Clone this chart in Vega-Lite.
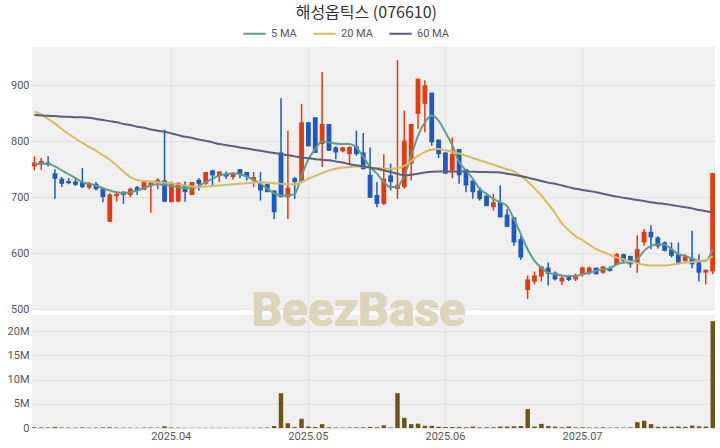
{
  "$schema": "https://vega.github.io/schema/vega-lite/v6.json",
  "background": "white",
  "padding": {"left": 2, "right": 5, "top": 5, "bottom": 4},
  "title": {"text": "해성옵틱스 (076610)", "anchor": "middle", "font": "Noto Sans CJK KR", "fontSize": 16, "fontWeight": "normal", "color": "#333333", "offset": 0, "dx": 7},
  "config": {
    "view": {"fill": "#f0f0f0", "stroke": null},
    "font": "Roboto",
    "axis": {"labelFont": "Roboto", "labelFontSize": 11, "labelColor": "#555555", "gridColor": "#e3e3e3", "gridWidth": 1, "domain": false, "ticks": false, "title": null, "labelPadding": 3, "labelOverlap": false},
    "legend": {"labelFont": "Roboto", "labelFontSize": 11, "labelColor": "#555555"}
  },
  "spacing": 6,
  "bounds": "flush",
  "datasets": {
    "k": [
      {"d":"2025-03-07","o":755,"h":773,"l":748,"c":762,"v":150000,"m5":760,"m20":853,"m60":847},
      {"d":"2025-03-10","o":758,"h":770,"l":749,"c":765,"v":120000,"m5":760,"m20":848,"m60":846},
      {"d":"2025-03-11","o":762,"h":773,"l":755,"c":758,"v":100000,"m5":760,"m20":840,"m60":845.5},
      {"d":"2025-03-12","o":743,"h":750,"l":697,"c":733,"v":200000,"m5":755,"m20":832,"m60":845},
      {"d":"2025-03-13","o":733,"h":736,"l":718,"c":724,"v":100000,"m5":748,"m20":822,"m60":844},
      {"d":"2025-03-14","o":729,"h":734,"l":723,"c":725,"v":80000,"m5":741,"m20":813,"m60":844},
      {"d":"2025-03-17","o":728,"h":733,"l":720,"c":722,"v":80000,"m5":734,"m20":805,"m60":843},
      {"d":"2025-03-18","o":727,"h":752,"l":716,"c":718,"v":120000,"m5":727,"m20":797,"m60":843},
      {"d":"2025-03-19","o":717,"h":727,"l":714,"c":724,"v":80000,"m5":724,"m20":790,"m60":842},
      {"d":"2025-03-20","o":724,"h":727,"l":712,"c":714,"v":100000,"m5":721,"m20":783,"m60":840},
      {"d":"2025-03-21","o":715,"h":717,"l":691,"c":700,"v":120000,"m5":716,"m20":775,"m60":838},
      {"d":"2025-03-24","o":656,"h":707,"l":655,"c":705,"v":150000,"m5":712,"m20":767,"m60":836},
      {"d":"2025-03-25","o":702,"h":710,"l":692,"c":706,"v":80000,"m5":709,"m20":757,"m60":834},
      {"d":"2025-03-26","o":710,"h":710,"l":688,"c":704,"v":80000,"m5":707,"m20":746,"m60":831},
      {"d":"2025-03-27","o":704,"h":717,"l":700,"c":715,"v":70000,"m5":709,"m20":736,"m60":829},
      {"d":"2025-03-28","o":718,"h":720,"l":704,"c":712,"v":60000,"m5":712,"m20":731,"m60":826},
      {"d":"2025-03-31","o":713,"h":728,"l":713,"c":728,"v":80000,"m5":716,"m20":729,"m60":824},
      {"d":"2025-04-01","o":722,"h":728,"l":672,"c":726,"v":100000,"m5":721,"m20":728,"m60":821},
      {"d":"2025-04-02","o":727,"h":734,"l":714,"c":731,"v":80000,"m5":723,"m20":727,"m60":819},
      {"d":"2025-04-03","o":730,"h":821,"l":691,"c":692,"v":350000,"m5":722,"m20":726,"m60":817},
      {"d":"2025-04-04","o":691,"h":728,"l":691,"c":724,"v":100000,"m5":720,"m20":725,"m60":814},
      {"d":"2025-04-07","o":692,"h":726,"l":691,"c":726,"v":80000,"m5":718,"m20":723,"m60":811},
      {"d":"2025-04-08","o":721,"h":728,"l":692,"c":709,"v":60000,"m5":716,"m20":721,"m60":808},
      {"d":"2025-04-09","o":704,"h":727,"l":704,"c":727,"v":50000,"m5":716,"m20":719,"m60":806},
      {"d":"2025-04-10","o":731,"h":734,"l":712,"c":724,"v":50000,"m5":720,"m20":718,"m60":803},
      {"d":"2025-04-11","o":724,"h":745,"l":722,"c":745,"v":60000,"m5":727,"m20":719,"m60":801},
      {"d":"2025-04-14","o":748,"h":749,"l":721,"c":739,"v":50000,"m5":733,"m20":720,"m60":798},
      {"d":"2025-04-15","o":739,"h":746,"l":727,"c":746,"v":50000,"m5":739,"m20":721,"m60":795},
      {"d":"2025-04-16","o":742,"h":746,"l":733,"c":737,"v":40000,"m5":741,"m20":722,"m60":793},
      {"d":"2025-04-17","o":736,"h":744,"l":731,"c":743,"v":40000,"m5":743,"m20":723,"m60":791},
      {"d":"2025-04-18","o":750,"h":750,"l":734,"c":740,"v":40000,"m5":741,"m20":724,"m60":789},
      {"d":"2025-04-21","o":745,"h":745,"l":730,"c":736,"v":50000,"m5":737,"m20":725,"m60":787},
      {"d":"2025-04-22","o":730,"h":745,"l":718,"c":736,"v":50000,"m5":731,"m20":726,"m60":785},
      {"d":"2025-04-23","o":724,"h":745,"l":694,"c":712,"v":80000,"m5":724,"m20":727,"m60":783},
      {"d":"2025-04-24","o":724,"h":724,"l":709,"c":709,"v":100000,"m5":715,"m20":726,"m60":781},
      {"d":"2025-04-25","o":712,"h":712,"l":661,"c":673,"v":400000,"m5":707,"m20":725,"m60":779},
      {"d":"2025-04-28","o":780,"h":877,"l":700,"c":700,"v":7200000,"m5":703,"m20":724,"m60":777},
      {"d":"2025-04-29","o":700,"h":819,"l":661,"c":717,"v":1000000,"m5":703,"m20":723,"m60":775},
      {"d":"2025-04-30","o":734,"h":736,"l":697,"c":727,"v":200000,"m5":706,"m20":723,"m60":773},
      {"d":"2025-05-02","o":730,"h":867,"l":727,"c":834,"v":1900000,"m5":738,"m20":727,"m60":771},
      {"d":"2025-05-07","o":834,"h":834,"l":791,"c":791,"v":300000,"m5":768,"m20":733,"m60":769.5},
      {"d":"2025-05-08","o":843,"h":843,"l":779,"c":779,"v":200000,"m5":786,"m20":738,"m60":768},
      {"d":"2025-05-09","o":795,"h":924,"l":754,"c":831,"v":800000,"m5":800,"m20":743,"m60":767},
      {"d":"2025-05-12","o":831,"h":831,"l":783,"c":783,"v":150000,"m5":798,"m20":748,"m60":766},
      {"d":"2025-05-13","o":789,"h":791,"l":768,"c":780,"v":100000,"m5":796,"m20":751,"m60":764},
      {"d":"2025-05-14","o":782,"h":790,"l":780,"c":789,"v":80000,"m5":795,"m20":753,"m60":762},
      {"d":"2025-05-15","o":777,"h":791,"l":759,"c":790,"v":100000,"m5":795,"m20":754,"m60":759},
      {"d":"2025-05-16","o":791,"h":819,"l":774,"c":777,"v":120000,"m5":789,"m20":755,"m60":757},
      {"d":"2025-05-19","o":780,"h":815,"l":750,"c":750,"v":150000,"m5":772,"m20":755,"m60":755},
      {"d":"2025-05-20","o":740,"h":789,"l":699,"c":699,"v":200000,"m5":754,"m20":753,"m60":753},
      {"d":"2025-05-21","o":704,"h":727,"l":682,"c":688,"v":150000,"m5":742,"m20":752,"m60":751},
      {"d":"2025-05-22","o":688,"h":777,"l":686,"c":733,"v":550000,"m5":727,"m20":751,"m60":748},
      {"d":"2025-05-23","o":739,"h":760,"l":712,"c":727,"v":100000,"m5":718,"m20":751,"m60":745},
      {"d":"2025-05-26","o":715,"h":945,"l":697,"c":722,"v":7200000,"m5":719,"m20":752,"m60":742},
      {"d":"2025-05-27","o":718,"h":855,"l":715,"c":801,"v":2100000,"m5":739,"m20":756,"m60":739},
      {"d":"2025-05-28","o":760,"h":831,"l":730,"c":831,"v":800000,"m5":774,"m20":765,"m60":740},
      {"d":"2025-05-29","o":849,"h":912,"l":822,"c":912,"v":900000,"m5":810,"m20":774,"m60":742},
      {"d":"2025-05-30","o":867,"h":909,"l":816,"c":900,"v":450000,"m5":834,"m20":781,"m60":744},
      {"d":"2025-06-02","o":887,"h":887,"l":792,"c":798,"v":450000,"m5":846,"m20":785,"m60":745.5},
      {"d":"2025-06-04","o":803,"h":803,"l":770,"c":777,"v":250000,"m5":837,"m20":786,"m60":746},
      {"d":"2025-06-05","o":780,"h":780,"l":742,"c":742,"v":200000,"m5":816,"m20":784,"m60":746},
      {"d":"2025-06-09","o":748,"h":807,"l":734,"c":777,"v":200000,"m5":793,"m20":781,"m60":746},
      {"d":"2025-06-10","o":786,"h":786,"l":724,"c":739,"v":200000,"m5":763,"m20":778,"m60":746},
      {"d":"2025-06-11","o":750,"h":750,"l":709,"c":721,"v":150000,"m5":748,"m20":774,"m60":746},
      {"d":"2025-06-12","o":730,"h":730,"l":697,"c":709,"v":300000,"m5":733,"m20":770,"m60":745.5},
      {"d":"2025-06-13","o":712,"h":718,"l":694,"c":697,"v":150000,"m5":715,"m20":766,"m60":745},
      {"d":"2025-06-16","o":703,"h":703,"l":684,"c":684,"v":150000,"m5":706,"m20":762,"m60":745},
      {"d":"2025-06-17","o":682,"h":706,"l":676,"c":691,"v":150000,"m5":697,"m20":758,"m60":744.5},
      {"d":"2025-06-18","o":691,"h":721,"l":664,"c":664,"v":300000,"m5":691,"m20":754,"m60":744},
      {"d":"2025-06-19","o":669,"h":679,"l":647,"c":647,"v":300000,"m5":684,"m20":750,"m60":742},
      {"d":"2025-06-20","o":664,"h":664,"l":613,"c":619,"v":350000,"m5":661,"m20":746,"m60":740},
      {"d":"2025-06-23","o":625,"h":631,"l":588,"c":592,"v":400000,"m5":634,"m20":738,"m60":738},
      {"d":"2025-06-24","o":534,"h":560,"l":518,"c":553,"v":3900000,"m5":607,"m20":728,"m60":735},
      {"d":"2025-06-25","o":549,"h":567,"l":544,"c":560,"v":300000,"m5":586,"m20":716,"m60":732},
      {"d":"2025-06-26","o":558,"h":577,"l":549,"c":576,"v":850000,"m5":574,"m20":703,"m60":729},
      {"d":"2025-06-27","o":574,"h":583,"l":542,"c":563,"v":400000,"m5":565,"m20":688,"m60":726},
      {"d":"2025-06-30","o":565,"h":567,"l":551,"c":553,"v":300000,"m5":562,"m20":672,"m60":724},
      {"d":"2025-07-01","o":549,"h":560,"l":543,"c":556,"v":150000,"m5":560,"m20":653,"m60":721},
      {"d":"2025-07-02","o":558,"h":561,"l":550,"c":552,"v":300000,"m5":559,"m20":641,"m60":718},
      {"d":"2025-07-03","o":553,"h":563,"l":550,"c":561,"v":120000,"m5":559,"m20":630,"m60":715},
      {"d":"2025-07-04","o":561,"h":576,"l":558,"c":574,"v":150000,"m5":562,"m20":623,"m60":713},
      {"d":"2025-07-07","o":564,"h":576,"l":561,"c":574,"v":100000,"m5":565,"m20":615,"m60":711},
      {"d":"2025-07-08","o":574,"h":574,"l":562,"c":562,"v":100000,"m5":568,"m20":607,"m60":709},
      {"d":"2025-07-09","o":565,"h":577,"l":563,"c":576,"v":150000,"m5":571,"m20":602,"m60":706},
      {"d":"2025-07-10","o":573,"h":576,"l":567,"c":568,"v":80000,"m5":573,"m20":597,"m60":703.5},
      {"d":"2025-07-11","o":579,"h":600,"l":578,"c":598,"v":100000,"m5":580,"m20":592,"m60":701},
      {"d":"2025-07-14","o":598,"h":599,"l":582,"c":586,"v":80000,"m5":583,"m20":589,"m60":699},
      {"d":"2025-07-15","o":595,"h":595,"l":574,"c":580,"v":100000,"m5":583,"m20":585,"m60":697},
      {"d":"2025-07-16","o":582,"h":632,"l":565,"c":607,"v":1200000,"m5":589,"m20":582,"m60":695},
      {"d":"2025-07-17","o":619,"h":643,"l":613,"c":638,"v":1500000,"m5":604,"m20":579,"m60":693},
      {"d":"2025-07-18","o":638,"h":650,"l":607,"c":628,"v":800000,"m5":613,"m20":578,"m60":691},
      {"d":"2025-07-21","o":628,"h":630,"l":608,"c":612,"v":250000,"m5":616,"m20":578,"m60":689},
      {"d":"2025-07-22","o":619,"h":621,"l":603,"c":604,"v":250000,"m5":615,"m20":578,"m60":688},
      {"d":"2025-07-23","o":607,"h":619,"l":592,"c":595,"v":250000,"m5":607,"m20":579,"m60":686},
      {"d":"2025-07-24","o":598,"h":619,"l":580,"c":583,"v":300000,"m5":598,"m20":581,"m60":684},
      {"d":"2025-07-25","o":586,"h":598,"l":582,"c":594,"v":250000,"m5":595,"m20":583,"m60":682},
      {"d":"2025-07-28","o":590,"h":640,"l":573,"c":580,"v":500000,"m5":590,"m20":584,"m60":680},
      {"d":"2025-07-29","o":583,"h":598,"l":549,"c":565,"v":350000,"m5":586,"m20":586,"m60":677},
      {"d":"2025-07-30","o":565,"h":571,"l":544,"c":570,"v":300000,"m5":586,"m20":587,"m60":675},
      {"d":"2025-07-31","o":567,"h":743,"l":562,"c":743,"v":22100000,"m5":607,"m20":595,"m60":673}
    ]
  },
  "vconcat": [
    {
      "width": 683,
      "height": 262,
      "data": {"name": "k"},
      "encoding": {
        "x": {"field": "d", "type": "ordinal", "sort": null, "scale": {"paddingInner": 0.3, "paddingOuter": 0},
              "axis": {"values": ["2025-04-04","2025-05-07","2025-06-05","2025-07-04"], "labels": false, "grid": true, "domain": false, "ticks": false}}
      },
      "layer": [
        {
          "mark": {"type": "rule", "strokeWidth": 1.5},
          "encoding": {
            "y": {"field": "l", "type": "quantitative", "scale": {"domain": [500, 968.6], "nice": false, "zero": false},
                  "axis": {"values": [500,600,700,800,900], "grid": true, "minExtent": 30, "maxExtent": 30}},
            "y2": {"field": "h"},
            "color": {"condition": {"test": "datum.c >= datum.o", "value": "#e8380f"}, "value": "#1e58c2"}
          }
        },
        {
          "mark": {"type": "bar"},
          "encoding": {
            "y": {"field": "o", "type": "quantitative", "axis": {"values": [500,600,700,800,900], "grid": true, "minExtent": 30, "maxExtent": 30}},
            "y2": {"field": "c"},
            "color": {"condition": {"test": "datum.c >= datum.o", "value": "#e8380f"}, "value": "#1e58c2"}
          }
        },
        {
          "transform": [{"fold": ["m5","m20","m60"], "as": ["s","ma"]}],
          "mark": {"type": "line", "strokeWidth": 2, "interpolate": "monotone"},
          "encoding": {
            "y": {"field": "ma", "type": "quantitative", "axis": {"values": [500,600,700,800,900], "grid": true, "minExtent": 30, "maxExtent": 30}},
            "color": {"field": "s", "type": "nominal",
                      "scale": {"domain": ["m5","m20","m60"], "range": ["#5e9c8c","#d6bc58","#5b5e7c"]},
                      "legend": {"orient": "none", "direction": "horizontal", "legendX": 210, "legendY": -26, "title": null,
                                 "symbolType": "stroke", "symbolStrokeWidth": 2, "symbolSize": 500, "columnPadding": 12,
                                 "labelExpr": "datum.value == 'm5' ? '5 MA' : datum.value == 'm20' ? '20 MA' : '60 MA'"}}
          }
        }
      ]
    },
    {
      "width": 683,
      "height": 113,
      "data": {"name": "k"},
      "layer": [
        {
          "mark": {"type": "bar", "color": "#6b5418"},
          "encoding": {
            "x": {"field": "d", "type": "ordinal", "sort": null, "scale": {"paddingInner": 0.35, "paddingOuter": 0},
                  "axis": {"values": ["2025-04-04","2025-05-07","2025-06-05","2025-07-04"], "grid": true, "labelAngle": 0,
                           "labelExpr": "replace(slice(datum.label,0,7),'-','.')", "labelPadding": 2}},
            "y": {"field": "v", "type": "quantitative", "scale": {"domain": [0, 23370000], "nice": false},
                  "axis": {"values": [0,5000000,10000000,15000000,20000000],
                           "labelExpr": "datum.value == 0 ? '0' : format(datum.value / 1000000, 'd') + 'M'", "grid": true, "minExtent": 30, "maxExtent": 30}}
          }
        },
        {
          "mark": {"type": "text", "text": "BeezBase", "font": "Roboto", "fontSize": 48, "fontWeight": "bold", "color": "#dbd5bc", "baseline": "middle", "align": "center", "dx": 2},
          "encoding": {
            "x": {"datum": "2025-05-16", "type": "ordinal",
                  "axis": {"values": ["2025-04-04","2025-05-07","2025-06-05","2025-07-04"], "grid": true, "labelAngle": 0,
                           "labelExpr": "replace(slice(datum.label,0,7),'-','.')", "labelPadding": 2}},
            "y": {"datum": 24000000, "type": "quantitative",
                  "axis": {"values": [0,5000000,10000000,15000000,20000000],
                           "labelExpr": "datum.value == 0 ? '0' : format(datum.value / 1000000, 'd') + 'M'", "grid": true, "minExtent": 30, "maxExtent": 30}}
          }
        }
      ]
    }
  ]
}
